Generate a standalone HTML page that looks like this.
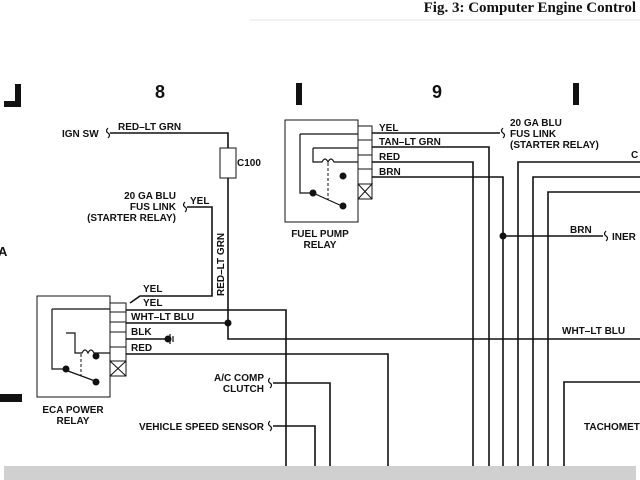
<!DOCTYPE html>
<html><head><style>
html,body{margin:0;padding:0;background:#fff;}
svg{display:block;}
text{font-family:"Liberation Sans",sans-serif;font-weight:bold;fill:#111;}
</style></head><body>
<svg width="640" height="480" viewBox="0 0 640 480" xmlns="http://www.w3.org/2000/svg">
<text x="636" y="12" text-anchor="end" style="font-family:'Liberation Serif',serif;font-size:15px;font-weight:bold">Fig. 3: Computer Engine Control</text>
<line x1="250" y1="20" x2="640" y2="20" stroke="#e4e4e4" stroke-width="1"/>
<rect x="4" y="466" width="632" height="14" fill="#d0d0d0"/>
<path d="M18 84 V104 H4" fill="none" stroke="#111" stroke-width="6"/>
<rect x="296" y="83" width="6" height="22" fill="#111"/>
<rect x="573" y="83" width="6" height="22" fill="#111"/>
<rect x="0" y="394" width="22" height="8" fill="#111"/>
<text x="-2" y="256" font-size="13">A</text>
<text x="160" y="98" font-size="18" text-anchor="middle">8</text>
<text x="437" y="98" font-size="18" text-anchor="middle">9</text>
<g stroke="#111" stroke-width="1.6" fill="none">
<path d="M110 133 H228 V148"/>
<rect x="220" y="148" width="16" height="30" stroke-width="1"/>
<path d="M228 178 V339 H640"/>
<path d="M108 128 q-3 3 0 5 q3 2 0 5" stroke-width="1.2"/>
<path d="M187 207 H212 V296 H140 L130 303"/>
<path d="M185 202 q-3 3 0 5 q3 2 0 5" stroke-width="1.2"/>
<rect x="37" y="296" width="73" height="101" stroke-width="1"/>
<rect x="110" y="303" width="16" height="73" stroke-width="1"/>
<path d="M110 312 H126 M110 322 H126 M110 332 H126 M110 347 H126 M110 361 H126 M110 361 L126 376 M126 361 L110 376" stroke-width="1"/>
<path d="M126 310 H286 V466"/>
<path d="M126 323 H228"/>
<path d="M126 339 H168"/>
<path d="M126 354 H388 V466"/>
<path d="M52 309 H110 M52 309 V369 H65" stroke-width="1.2"/>
<path d="M66 333 H75 V353 H82 q3 -6 6 0 q3 -6 6 0 H110" stroke-width="1.2"/>
<path d="M68 371 L95 381" stroke-width="1.2"/>
<path d="M81 354 V376" stroke-dasharray="3,2" stroke-width="1"/>
<path d="M170 334 V344 M173 336 V342" stroke-width="1.2"/>
<rect x="285" y="120" width="73" height="102" stroke-width="1"/>
<rect x="358" y="126" width="14" height="73" stroke-width="1"/>
<path d="M358 140 H372 M358 155 H372 M358 169 H372 M358 184 H372 L358 199 M358 184 L372 199" stroke-width="1"/>
<path d="M372 133 H500"/>
<path d="M503 128 q-3 3 0 5 q3 2 0 5" stroke-width="1.2"/>
<path d="M372 147 H489 V466"/>
<path d="M372 162 H473 V466"/>
<path d="M372 177 H503 V466"/>
<path d="M503 236 H603"/>
<path d="M606 231 q-3 3 0 5 q3 2 0 5" stroke-width="1.2"/>
<path d="M300 134 H358 M300 134 V193 H313" stroke-width="1.2"/>
<path d="M313 148 H358 M313 148 V162 H322 q3 -6 6 0 q3 -6 6 0 H340 V162 H358" stroke-width="1.2"/>
<path d="M313 193 L342 206" stroke-width="1.2"/>
<path d="M328 163 V200" stroke-dasharray="3,2" stroke-width="1"/>
<path d="M518 466 V162 H640"/>
<path d="M533 466 V177 H640"/>
<path d="M548 466 V192 H640"/>
<path d="M564 466 V382 H640"/>
<path d="M273 383 H330 V466"/>
<path d="M270 378 q-3 3 0 5 q3 2 0 5" stroke-width="1.2"/>
<path d="M273 426 H315 V466"/>
<path d="M270 421 q-3 3 0 5 q3 2 0 5" stroke-width="1.2"/>
</g>
<g fill="#111">
<circle cx="228" cy="323" r="3.5"/>
<circle cx="168" cy="339" r="3.5"/>
<circle cx="96" cy="356" r="3.5"/><circle cx="66" cy="369" r="3.5"/><circle cx="96" cy="382" r="3.5"/>
<circle cx="343" cy="176" r="3.5"/><circle cx="313" cy="193" r="3.5"/><circle cx="343" cy="206" r="3.5"/>
<circle cx="503" cy="236" r="3.5"/>
</g>
<g font-size="10">
<text x="62" y="137">IGN SW</text>
<text x="118" y="130">RED–LT GRN</text>
<text x="237" y="166">C100</text>
<text x="176" y="199" text-anchor="end">20 GA BLU</text>
<text x="176" y="210" text-anchor="end">FUS LINK</text>
<text x="176" y="221" text-anchor="end">(STARTER RELAY)</text>
<text x="190" y="204">YEL</text>
<text transform="translate(224,296) rotate(-90)">RED–LT GRN</text>
<text x="143" y="292">YEL</text>
<text x="143" y="306">YEL</text>
<text x="131" y="320">WHT–LT BLU</text>
<text x="131" y="335">BLK</text>
<text x="131" y="351">RED</text>
<text x="73" y="413" text-anchor="middle">ECA POWER</text>
<text x="73" y="424" text-anchor="middle">RELAY</text>
<text x="320" y="237" text-anchor="middle">FUEL PUMP</text>
<text x="320" y="248" text-anchor="middle">RELAY</text>
<text x="379" y="131">YEL</text>
<text x="379" y="145">TAN–LT GRN</text>
<text x="379" y="160">RED</text>
<text x="379" y="175">BRN</text>
<text x="510" y="126">20 GA BLU</text>
<text x="510" y="137">FUS LINK</text>
<text x="510" y="148">(STARTER RELAY)</text>
<text x="631" y="158">C</text>
<text x="570" y="233">BRN</text>
<text x="612" y="240">INER</text>
<text x="562" y="334">WHT–LT BLU</text>
<text x="264" y="381" text-anchor="end">A/C COMP</text>
<text x="264" y="392" text-anchor="end">CLUTCH</text>
<text x="264" y="430" text-anchor="end">VEHICLE SPEED SENSOR</text>
<text x="584" y="430">TACHOMETER</text>
</g>
</svg>
</body></html>
